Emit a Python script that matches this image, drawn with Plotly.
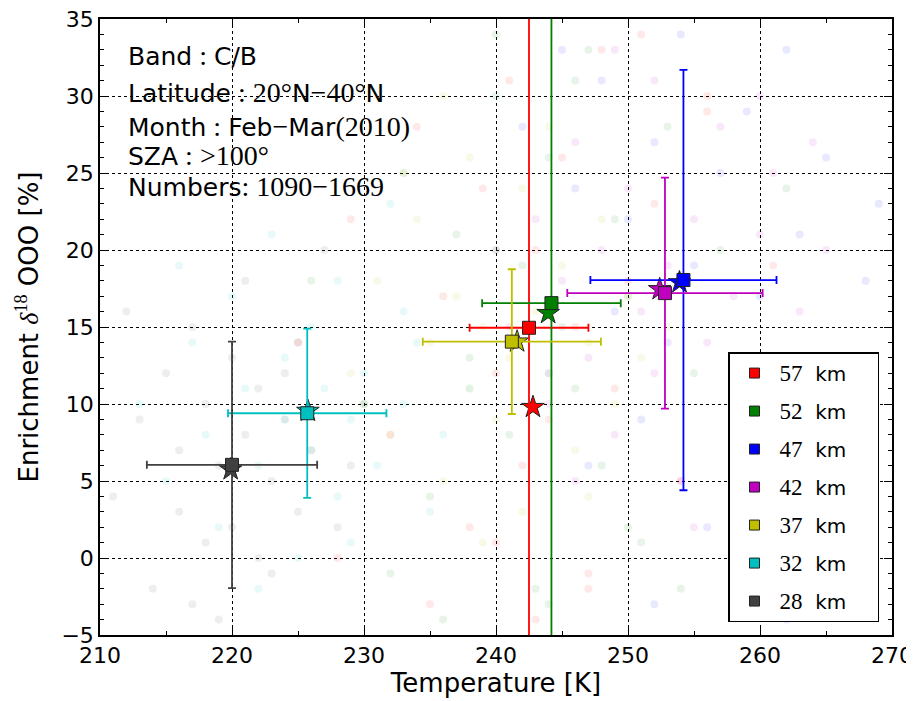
import plotly.graph_objects as go

# ---------------- data ----------------
altitudes = ["57 km", "52 km", "47 km", "42 km", "37 km", "32 km", "28 km"]
colors = ["#ff0000", "#008000", "#0000ff", "#bf00bf", "#bfbf00", "#00bfbf", "#404040"]

mean_T = [242.5, 244.2, 254.2, 252.8, 241.2, 225.7, 220.0]
mean_E = [14.95, 16.55, 18.05, 17.2, 14.05, 9.4, 6.05]
err_T = [4.5, 5.25, 7.05, 7.4, 6.75, 6.0, 6.45]
err_E = [26.0, 26.0, 13.65, 7.5, 4.7, 5.5, 8.0]

median_T = [242.8, 243.95, 253.9, 252.4, 241.6, 225.75, 219.9]
median_E = [9.8, 15.9, 17.9, 17.45, 14.05, 9.55, 5.75]

# faint background retrievals (estimated)
bg_T = {
    "57 km": [225, 229, 232, 234, 236, 238, 239, 240, 241, 242, 243, 244, 245, 246, 247, 248, 249, 250, 252, 254, 256, 258, 261, 235, 243, 251, 228, 240, 247, 256],
    "52 km": [226, 230, 233, 235, 237, 238, 240, 241, 242, 243, 244, 245, 246, 247, 248, 249, 250, 251, 253, 255, 257, 259, 262, 236, 244, 250, 232, 240, 246, 254],
    "47 km": [240, 242, 244, 246, 247, 248, 249, 250, 251, 252, 253, 254, 255, 256, 257, 258, 259, 260, 261, 262, 263, 264, 265, 266, 268, 269, 252, 258, 245, 262],
    "42 km": [241, 243, 244, 245, 246, 247, 248, 249, 250, 251, 252, 252, 253, 254, 255, 256, 257, 258, 259, 260, 261, 262, 263, 265, 267, 249, 255, 260, 246, 264],
    "37 km": [229, 231, 232, 234, 235, 236, 237, 238, 238, 239, 240, 240, 241, 242, 242, 243, 244, 245, 246, 247, 248, 249, 250, 251, 253, 236, 244, 239, 247, 233],
    "32 km": [213, 215, 217, 218, 219, 220, 221, 222, 223, 224, 224, 225, 226, 226, 227, 228, 228, 229, 230, 231, 232, 233, 234, 235, 236, 238, 216, 222, 229, 233],
    "28 km": [211, 213, 214, 215, 216, 216, 217, 218, 218, 219, 219, 220, 220, 221, 221, 222, 222, 223, 223, 224, 225, 225, 226, 227, 228, 229, 230, 212, 217, 224],
}
bg_E = {
    "57 km": [14, 22, 8, 28, 17, 2, 24, 12, 31, 6, 20, 9, 26, 15, -1, 33, 11, 18, 23, 5, 29, 13, 19, -3, -4, 34, 0, 1, -2, 30],
    "52 km": [18, 10, 25, 4, 21, 13, 30, 8, 19, -2, 26, 15, 11, 33, 6, 22, 17, 1, 28, 12, 20, 9, 24, -4, -3, 2, -1, 34, 31, -2],
    "47 km": [20, 28, 12, 24, 6, 31, 16, 22, 9, 27, 14, 34, 19, 2, 25, 11, 29, 17, 7, 33, 21, 13, 26, 4, 18, 23, -3, 0, 33, -4],
    "42 km": [15, 22, 10, 18, 27, 13, 20, 8, 24, 16, 31, 12, 19, 5, 22, 14, 28, 17, 11, 21, 25, 9, 16, 20, 13, 33, 2, 30, 5, 27],
    "37 km": [12, 18, 8, 22, 14, 5, 17, 11, 26, 15, 9, 20, 13, 3, 24, 16, 12, 19, 7, 14, 22, 10, 17, 13, 15, 30, 28, 1, 4, 25],
    "32 km": [10, 5, 14, 8, 2, 17, 11, 6, 21, 9, 13, 0, 7, 15, 11, 4, 18, 9, 12, 6, 23, 10, 14, 3, 8, 11, 19, -2, 1, 16],
    "28 km": [4, 9, -2, 12, 3, 7, 15, 1, 10, -4, 6, 13, 2, 8, 18, 0, 11, 5, -1, 9, 14, 3, 7, 20, 2, 6, 10, 16, -3, 12],
}

SERIF = "Liberation Serif"
SANS = "DejaVu Sans"


def sf(t, size=28):
    return f"<span style='font-family:{SERIF};font-size:{size}px'>{t}</span>"


info_lines = [
    "Band" + sf(" : ") + "C/B",
    "Latitude" + sf(" : 20°") + "N" + sf("−40°") + "N",
    "Month" + sf(" : ") + "Feb" + sf("−") + "Mar" + sf("(2010)"),
    "SZA" + sf(" : &gt;100°"),
    "Numbers" + sf(": 1090−1669"),
]
info_y = [32.6, 30.2, 28.0, 26.15, 24.1]

fig = go.Figure()

# background clouds
for i, alt in enumerate(altitudes):
    fig.add_trace(go.Scatter(
        x=bg_T[alt], y=bg_E[alt], mode="markers",
        marker=dict(color=colors[i], size=8, opacity=0.09, line=dict(width=0)),
        showlegend=False, hoverinfo="skip"))

# medians (stars)
for i, alt in enumerate(altitudes):
    fig.add_trace(go.Scatter(
        x=[median_T[i]], y=[median_E[i]], mode="markers",
        marker=dict(symbol="star", color=colors[i], size=17,
                    line=dict(color="#222222", width=1)),
        showlegend=False))

# means with error bars (squares)
for i, alt in enumerate(altitudes):
    fig.add_trace(go.Scatter(
        x=[mean_T[i]], y=[mean_E[i]], mode="markers",
        marker=dict(symbol="square", color=colors[i], size=13,
                    line=dict(color="#222222", width=1)),
        error_x=dict(type="data", array=[err_T[i]], color=colors[i], thickness=1.8, width=4),
        error_y=dict(type="data", array=[err_E[i]], color=colors[i], thickness=1.8, width=4),
        showlegend=False))

# legend entries
for i, alt in enumerate(altitudes):
    num, unit = alt.split(" ")
    fig.add_trace(go.Scatter(
        x=[None], y=[None], mode="markers",
        marker=dict(symbol="square", color=colors[i], size=10,
                    line=dict(color="#222222", width=1)),
        name=sf(num, 23) + "&nbsp;&nbsp;" + unit + "&nbsp;&nbsp;&nbsp;&nbsp;",
        legendgroup=alt, showlegend=True))

for txt, yv in zip(info_lines, info_y):
    fig.add_annotation(x=212.0, y=yv, xref="x", yref="y", text=txt, showarrow=False,
                       xanchor="left", yanchor="middle",
                       font=dict(family=SANS, size=25, color="black"))

axis_common = dict(
    showline=True, linecolor="black", linewidth=1.5, mirror="allticks",
    ticks="inside", ticklen=8, tickwidth=1.2, tickcolor="black",
    showgrid=True, gridcolor="black", griddash="dot", gridwidth=1,
    zeroline=False, tickfont=dict(family=SANS, size=22, color="black"),
    automargin=False, ticklabeloverflow="allow",
)

fig.update_xaxes(range=[210, 270], dtick=10, tick0=210,
                 minor=dict(dtick=5, ticks="inside", ticklen=4, tickcolor="black", showgrid=False),
                 title=dict(text="Temperature [K]", font=dict(family=SANS, size=26, color="black"), standoff=4),
                 **axis_common)
fig.update_yaxes(range=[-5, 35], dtick=5, tick0=0,
                 minor=dict(dtick=1, ticks="inside", ticklen=4, tickcolor="black", showgrid=False),
                 title=dict(text=f"Enrichment <i style='font-family:{SERIF}'>δ</i><sup style='font-family:{SERIF}'>18</sup> OOO [%]",
                            font=dict(family=SANS, size=26, color="black"), standoff=15),
                 **axis_common)

# the page body adds an 8px offset; margins compensate so the plot lands where the reference has it
fig.update_layout(
    width=914, height=701,
    margin=dict(l=92, r=30, t=11, b=74),
    paper_bgcolor="white", plot_bgcolor="white",
    legend=dict(x=0.9836, y=0.021, xanchor="right", yanchor="bottom",
                bgcolor="white", bordercolor="black", borderwidth=1.5,
                font=dict(family=SANS, size=20, color="black"),
                tracegroupgap=9, itemwidth=40),
    showlegend=True,
)

fig.write_html("out.html")
